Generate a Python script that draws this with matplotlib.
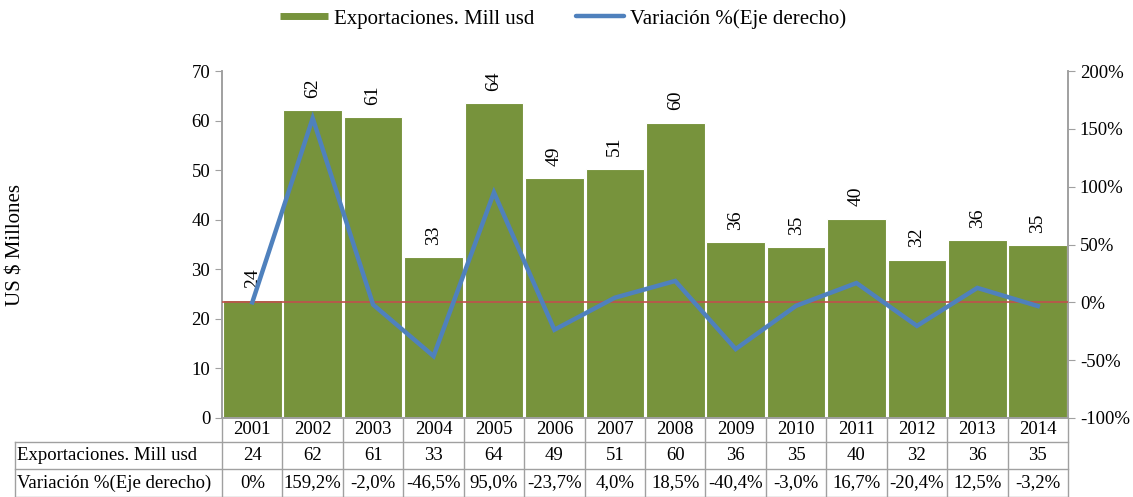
import matplotlib.pyplot as plt
import numpy as np
from matplotlib.lines import Line2D

plt.rcParams['font.family'] = ['Liberation Serif', 'DejaVu Serif']

years = ["2001", "2002", "2003", "2004", "2005", "2006", "2007",
         "2008", "2009", "2010", "2011", "2012", "2013", "2014"]
exports = [23.8, 62.1, 60.7, 32.4, 63.5, 48.4, 50.3, 59.6, 35.5, 34.4, 40.2, 31.9, 35.9, 34.9]
variation = [0.0, 159.2, -2.0, -46.5, 95.0, -23.7, 4.0, 18.5, -40.4, -3.0, 16.7, -20.4, 12.5, -3.2]
export_labels = ["24", "62", "61", "33", "64", "49", "51", "60", "36", "35", "40", "32", "36", "35"]
var_labels = ["0%", "159,2%", "-2,0%", "-46,5%", "95,0%", "-23,7%", "4,0%",
              "18,5%", "-40,4%", "-3,0%", "16,7%", "-20,4%", "12,5%", "-3,2%"]
row_names = ["Exportaciones. Mill usd", "Variación %(Eje derecho)"]

green = "#77933C"
blue = "#4F81BD"
red = "#C0504D"
grid_gray = "#A0A0A0"
fs = 13.5

fig = plt.figure(figsize=(11.33, 4.97), dpi=100)
ax = fig.add_axes([0.196, 0.159, 0.7466, 0.698])
ax2 = ax.twinx()

x = np.arange(len(years))
ax.bar(x, exports, width=0.97, color=green, edgecolor="white", linewidth=0.8, zorder=2)
for xi, v, lab in zip(x, exports, export_labels):
    ax.annotate(lab, (xi, v), xytext=(0, 9), textcoords="offset points",
                rotation=90, ha="center", va="bottom", fontsize=14)

ax.set_xlim(-0.5, len(years) - 0.5)
ax.set_ylim(0, 70)
ax.set_yticks(range(0, 71, 10))
ax.set_xticks([])
ax.set_ylabel("US $ Millones", fontsize=15)
ax.yaxis.set_label_coords(-0.232, 0.5)
ax.tick_params(axis="y", labelsize=fs, color=grid_gray, length=5)

ax2.axhline(0, color=red, lw=1.2, zorder=3)
ax2.plot(x, variation, color=blue, lw=3.2, solid_joinstyle="miter", zorder=4)
ax2.set_ylim(-100, 200)
ax2.set_yticks(range(-100, 201, 50))
ax2.set_yticklabels([f"{t}%" for t in range(-100, 201, 50)])
ax2.tick_params(axis="y", labelsize=fs, color=grid_gray, length=5)

for a in (ax, ax2):
    a.spines["top"].set_visible(False)
    for s in ("left", "right", "bottom"):
        a.spines[s].set_color(grid_gray)
        a.spines[s].set_linewidth(1.2)

# data table below the plot
tr = ax.get_xaxis_transform()
row_y = [0, -0.069, -0.147, -0.228]
label_left = -0.5 - 0.2447 * len(years)
line_kw = dict(color=grid_gray, lw=1.0, transform=tr, clip_on=False)
for xi in range(len(years) + 1):
    ax.plot([xi - 0.5, xi - 0.5], [row_y[0], row_y[3]], **line_kw)
for yy in row_y[1:]:
    ax.plot([label_left, len(years) - 0.5], [yy, yy], **line_kw)
ax.plot([label_left, label_left], [row_y[1], row_y[3]], **line_kw)

centers = [(row_y[i] + row_y[i + 1]) / 2 for i in range(3)]
for xi in x:
    ax.text(xi, centers[0], years[xi], transform=tr, ha="center", va="center", fontsize=fs)
    ax.text(xi, centers[1], export_labels[xi], transform=tr, ha="center", va="center", fontsize=fs)
    ax.text(xi, centers[2], var_labels[xi], transform=tr, ha="center", va="center", fontsize=fs)
for name, cy in zip(row_names, centers[1:]):
    ax.text(label_left + 0.04, cy, name, transform=tr, ha="left", va="center", fontsize=fs)

# legend
handles = [Line2D([], [], color=green, lw=5, solid_capstyle="butt"),
           Line2D([], [], color=blue, lw=3.2, solid_capstyle="round")]
fig.legend(handles, ["Exportaciones. Mill usd", "Variación %(Eje derecho)"],
           loc="upper center", bbox_to_anchor=(0.497, 1.02), ncol=2, frameon=False,
           fontsize=15, handlelength=2.3, handletextpad=0.3, columnspacing=2.0)

fig.savefig("out.png", dpi=100)
